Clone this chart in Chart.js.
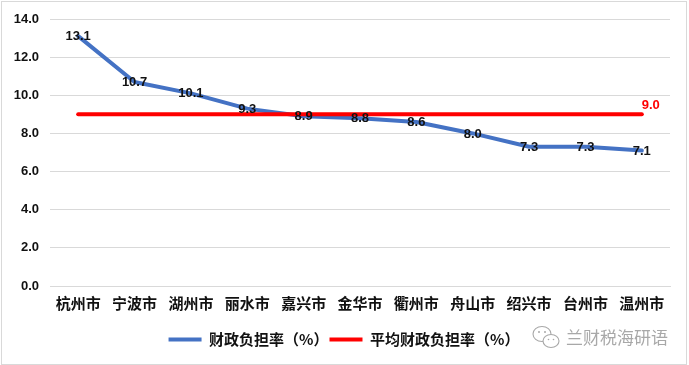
<!DOCTYPE html>
<html><head><meta charset="utf-8">
<script src="https://cdn.jsdelivr.net/npm/chart.js@4/dist/chart.umd.min.js"></script>
<style>
html,body{margin:0;padding:0;background:#fff;overflow:hidden}
#box{position:relative;width:689px;height:365px}
#frame{position:absolute;left:1px;top:1px;width:684px;height:362px;border:1px solid #d9d9d9;pointer-events:none}
#wm{position:absolute;left:566px;top:326px;font:17px/22px "Noto Sans CJK SC";color:#a8a8a8;white-space:nowrap}
#ico{position:absolute;left:531px;top:324px}
</style></head><body>
<div id="box">
<canvas id="c" width="689" height="365"></canvas>
<div id="frame"></div>
<svg id="ico" width="32" height="28" viewBox="0 0 32 28"><g fill="#fff" stroke="#a8a8a8" stroke-width="1.1"><ellipse cx="11" cy="10" rx="9" ry="7.5"/><ellipse cx="20" cy="17" rx="8" ry="6.5"/></g><g fill="#a8a8a8"><circle cx="8" cy="8" r="1"/><circle cx="14" cy="8" r="1"/><circle cx="17.5" cy="15.5" r=".8"/><circle cx="22.5" cy="15.5" r=".8"/></g></svg>
<div id="wm">兰财税海研语</div>
</div>
<script>
const categories = ['杭州市','宁波市','湖州市','丽水市','嘉兴市','金华市','衢州市','舟山市','绍兴市','台州市','温州市'];
const burden = [13.1,10.7,10.1,9.3,8.9,8.8,8.6,8.0,7.3,7.3,7.1];
const average = [9.0,9.0,9.0,9.0,9.0,9.0,9.0,9.0,9.0,9.0,9.0];
const seriesNames = ['财政负担率（%）','平均财政负担率（%）'];
const yTicks = [0,2,4,6,8,10,12,14];

const valueLabels = {
  id:'valueLabels',
  afterLayout(chart){
    chart.legend.left += 9;
    chart.legend.right += 9;
  },
  afterDatasetsDraw(chart){
    const ctx = chart.ctx;
    ctx.save();
    ctx.textAlign='center'; ctx.textBaseline='middle';
    ctx.font='bold 13px "Liberation Sans"'; ctx.fillStyle='#111';
    chart.getDatasetMeta(0).data.forEach((p,i)=>{
      ctx.fillText(burden[i].toFixed(1), p.x, p.y+0.5);
    });
    const m = chart.getDatasetMeta(1).data;
    const last = m[m.length-1];
    ctx.fillStyle='#ff0000';
    ctx.fillText(average[average.length-1].toFixed(1), last.x+9, last.y-9);
    ctx.restore();
  }
};

new Chart(document.getElementById('c'),{
  type:'line',
  data:{labels:categories,datasets:[
    {label:seriesNames[0],data:burden,borderColor:'#4472c4',backgroundColor:'#4472c4',borderWidth:4,pointRadius:0,tension:0,order:2,borderCapStyle:'round',borderJoinStyle:'round'},
    {label:seriesNames[1],data:average,borderColor:'#ff0000',backgroundColor:'#ff0000',borderWidth:4,pointRadius:0,tension:0,order:1,borderCapStyle:'round'}
  ]},
  options:{
    responsive:false,animation:false,
    layout:{padding:{top:19,right:19,left:0,bottom:8}},
    plugins:{
      tooltip:{enabled:false},
      legend:{
        position:'bottom',
        labels:{sort:(a,b)=>a.datasetIndex-b.datasetIndex,usePointStyle:true,pointStyle:'line',pointStyleWidth:33,boxHeight:12,padding:1,color:'#111',font:{family:'"Noto Sans CJK SC"',size:15,weight:'bold'}}
      }
    },
    scales:{
      x:{
        offset:true,
        afterFit(s){s.height=45;},
        grid:{display:false},
        border:{color:'#d9d9d9'},
        ticks:{color:'#111',maxRotation:0,autoSkip:false,padding:0,font:{family:'"Noto Sans CJK SC"',size:15,weight:'bold'}}
      },
      y:{
        min:0,max:14,
        afterBuildTicks(s){s.ticks=yTicks.map(v=>({value:v}));},
        afterFit(s){s.width=50;},
        grid:{color:'#d9d9d9',drawTicks:false},
        border:{display:false},
        ticks:{color:'#111',padding:11,font:{family:'"Liberation Sans"',size:13,weight:'bold'},callback:v=>Number(v).toFixed(1)}
      }
    }
  },
  plugins:[valueLabels]
});
</script>
</body></html>
